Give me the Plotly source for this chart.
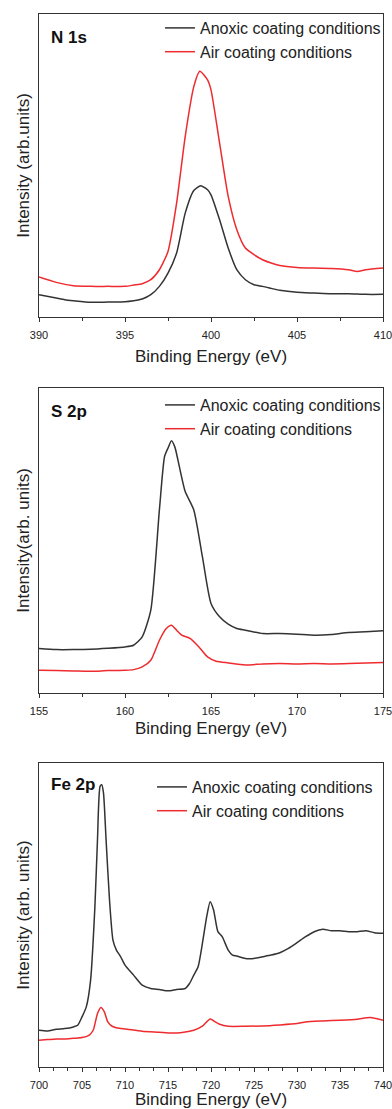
import plotly.graph_objects as go

# ---------------- data (arbitrary intensity units) ----------------
n1s_anoxic_ev = [390, 391, 391.5, 392, 393, 394, 395, 395.5, 396, 396.5, 397, 397.5, 398, 398.5, 399, 399.4, 399.8, 400, 400.5, 401, 401.5, 402, 402.5, 403, 403.5, 404, 405, 406, 407, 408, 409, 410]
n1s_anoxic = [67, 57, 52, 49, 44, 45, 46, 49, 54, 67, 92, 132, 192, 312, 380, 394, 382, 367, 292, 207, 142, 112, 97, 92, 86, 80, 74, 72, 70, 70, 68, 68]
n1s_air_ev = [390, 391, 392, 393, 394, 395, 395.5, 396, 396.5, 397, 397.5, 398, 398.5, 399, 399.35, 399.8, 400, 400.5, 401, 401.5, 402, 402.5, 403, 403.5, 404, 405, 406, 407, 408, 408.5, 409, 410]
n1s_air = [120, 104, 94, 92, 92, 92, 96, 100, 112, 142, 197, 342, 542, 692, 738, 712, 682, 522, 362, 262, 207, 187, 172, 162, 155, 149, 147, 146, 142, 137, 142, 147]

s2p_anoxic_ev = [155, 156, 157, 158, 159, 160, 160.5, 161, 161.5, 162, 162.3, 162.5, 162.7, 162.9, 163.2, 163.5, 164, 164.5, 165, 165.5, 166, 166.5, 167, 168, 169, 170, 171, 172, 173, 174, 175]
s2p_anoxic = [133, 130, 130, 131, 134, 138, 143, 168, 248, 548, 708, 733, 755, 736, 668, 603, 548, 408, 268, 228, 206, 193, 188, 178, 178, 176, 173, 175, 181, 183, 186]
s2p_air_ev = [155, 156, 157, 158, 159, 160, 160.5, 161, 161.5, 162, 162.4, 162.7, 163, 163.3, 163.8, 164.3, 164.8, 165.3, 166, 167, 168, 169, 170, 171, 172, 173, 174, 175]
s2p_air = [68, 67, 66, 65, 67, 68, 70, 78, 98, 158, 193, 203, 188, 173, 163, 138, 108, 95, 90, 84, 87, 88, 87, 88, 87, 88, 90, 91]

fe2p_anoxic_ev = [700, 701, 702, 703, 704, 704.5, 705, 705.5, 706, 706.5, 706.8, 707.1, 707.3, 707.5, 707.8, 708.2, 708.6, 709, 709.5, 710, 711, 712, 713, 714, 715, 716, 717, 717.5, 718, 718.5, 719, 719.5, 719.9, 720.3, 720.8, 721.3, 722, 722.5, 723, 724, 725, 726, 727, 728, 729, 730, 731, 732, 733, 734, 735, 736, 737, 738, 739, 740]
fe2p_anoxic = [110, 108, 113, 115, 120, 125, 150, 180, 260, 480, 680, 840, 845, 820, 680, 500, 380, 350, 330, 305, 275, 245, 235, 232, 228, 232, 235, 250, 275, 300, 370, 450, 495, 470, 405, 390, 350, 335, 332, 325, 325, 330, 335, 342, 355, 372, 390, 405, 412, 408, 408, 405, 405, 408, 402, 400]
fe2p_air_ev = [700, 701, 702, 703, 704, 705, 705.8, 706.3, 706.8, 707.2, 707.6, 708, 708.5, 709.5, 710, 712, 714, 715, 716, 717, 718, 719, 719.9, 720.5, 721, 722, 724, 726, 728, 730, 731, 733, 735, 737, 738.5, 740]
fe2p_air = [80, 82, 84, 84, 86, 88, 95, 110, 160, 178, 165, 135, 122, 115, 114, 107, 104, 102, 102, 105, 110, 122, 144, 135, 128, 122, 122, 123, 126, 130, 135, 138, 140, 143, 148, 140]

series_names = ["Anoxic coating conditions", "Air coating conditions"]
panel_labels = ["N 1s", "S 2p", "Fe 2p"]
y_titles = ["Intensity (arb.units)", "Intensity(arb. units)", "Intensity (arb. units)"]
x_title = "Binding Energy (eV)"
x_ranges = [[390, 410], [155, 175], [700, 740]]
y_ranges = [[0, 910], [0, 913], [0, 910]]
minor_dticks = [2.5, 2.5, 5 / 3]

# ---------------- figure ----------------
W, H = 392, 1109
ML, MR, MT, MB = 39, 9, 14, 42
plot_h = H - MT - MB
def fy(p):
    return (H - MB - p) / plot_h

domains = [[fy(317), 1.0], [fy(693), fy(388)], [0.0, fy(763)]]
legend_tops = [fy(11), fy(388), fy(770)]
legend_x = (160 - ML) / (W - ML - MR)
legend_x3 = (152 - ML) / (W - ML - MR)
title_standoffs = [9, 5, 10]

BLACK = "#333333"
RED = "#ee2b2f"
FONT = "Liberation Sans, Arial, sans-serif"

data = [
    (n1s_anoxic_ev, n1s_anoxic, n1s_air_ev, n1s_air),
    (s2p_anoxic_ev, s2p_anoxic, s2p_air_ev, s2p_air),
    (fe2p_anoxic_ev, fe2p_anoxic, fe2p_air_ev, fe2p_air),
]

fig = go.Figure()
legend_ids = ["legend", "legend2", "legend3"]
for i, (xa, ya, xb, yb) in enumerate(data):
    ax = "" if i == 0 else str(i + 1)
    fig.add_trace(go.Scatter(x=xa, y=ya, mode="lines", name=series_names[0],
                             line=dict(color=BLACK, width=1.5, shape="spline", smoothing=0.6),
                             xaxis="x" + ax, yaxis="y" + ax, legend=legend_ids[i]))
    fig.add_trace(go.Scatter(x=xb, y=yb, mode="lines", name=series_names[1],
                             line=dict(color=RED, width=1.5, shape="spline", smoothing=0.6),
                             xaxis="x" + ax, yaxis="y" + ax, legend=legend_ids[i]))

layout = dict(
    width=W, height=H,
    margin=dict(l=ML, r=MR, t=MT, b=MB, pad=0, autoexpand=False),
    paper_bgcolor="white", plot_bgcolor="white",
    font=dict(family=FONT, color="#222222"),
    showlegend=True,
)

annotations = []
for i in range(3):
    ax = "" if i == 0 else str(i + 1)
    layout["xaxis" + ax] = dict(
        domain=[0, 1], anchor="y" + ax, range=x_ranges[i], automargin=False,
        showline=True, linecolor=BLACK, linewidth=1, mirror=True,
        showgrid=False, zeroline=False,
        ticks="outside", ticklen=4, tickwidth=1, tickcolor=BLACK, dtick=5, tick0=x_ranges[i][0],
        ticklabelstandoff=4, ticklabeloverflow="allow",
        minor=dict(ticks="outside", ticklen=2.5, tickwidth=1, tickcolor=BLACK, dtick=minor_dticks[i], showgrid=False),
        tickfont=dict(size=11, family=FONT, color="#222222"),
        title=dict(text=x_title, font=dict(size=17, family=FONT, color="#222222"), standoff=title_standoffs[i]),
    )
    layout["yaxis" + ax] = dict(
        domain=domains[i], anchor="x" + ax, range=y_ranges[i], automargin=False,
        showline=True, linecolor=BLACK, linewidth=1, mirror=True,
        showgrid=False, zeroline=False, showticklabels=False, ticks="",
        title=dict(text=y_titles[i], font=dict(size=17, family=FONT, color="#222222"), standoff=4),
    )
    layout[legend_ids[i]] = dict(
        x=legend_x3 if i == 2 else legend_x, y=legend_tops[i], xanchor="left", yanchor="top",
        bgcolor="rgba(0,0,0,0)", borderwidth=0,
        font=dict(size=16, family=FONT, color="#222222"),
        tracegroupgap=0, itemwidth=30,
    )
    annotations.append(dict(
        text="<b>%s</b>" % panel_labels[i], xref="x" + ax + " domain", yref="y" + ax + " domain",
        x=0.03, y=1.0, xanchor="left", yanchor="top", yshift=-12 if i < 2 else -10, showarrow=False,
        font=dict(size=17, family=FONT, color="#111111"),
    ))
layout["annotations"] = annotations
fig.update_layout(**layout)

fig.write_html("out.html")
